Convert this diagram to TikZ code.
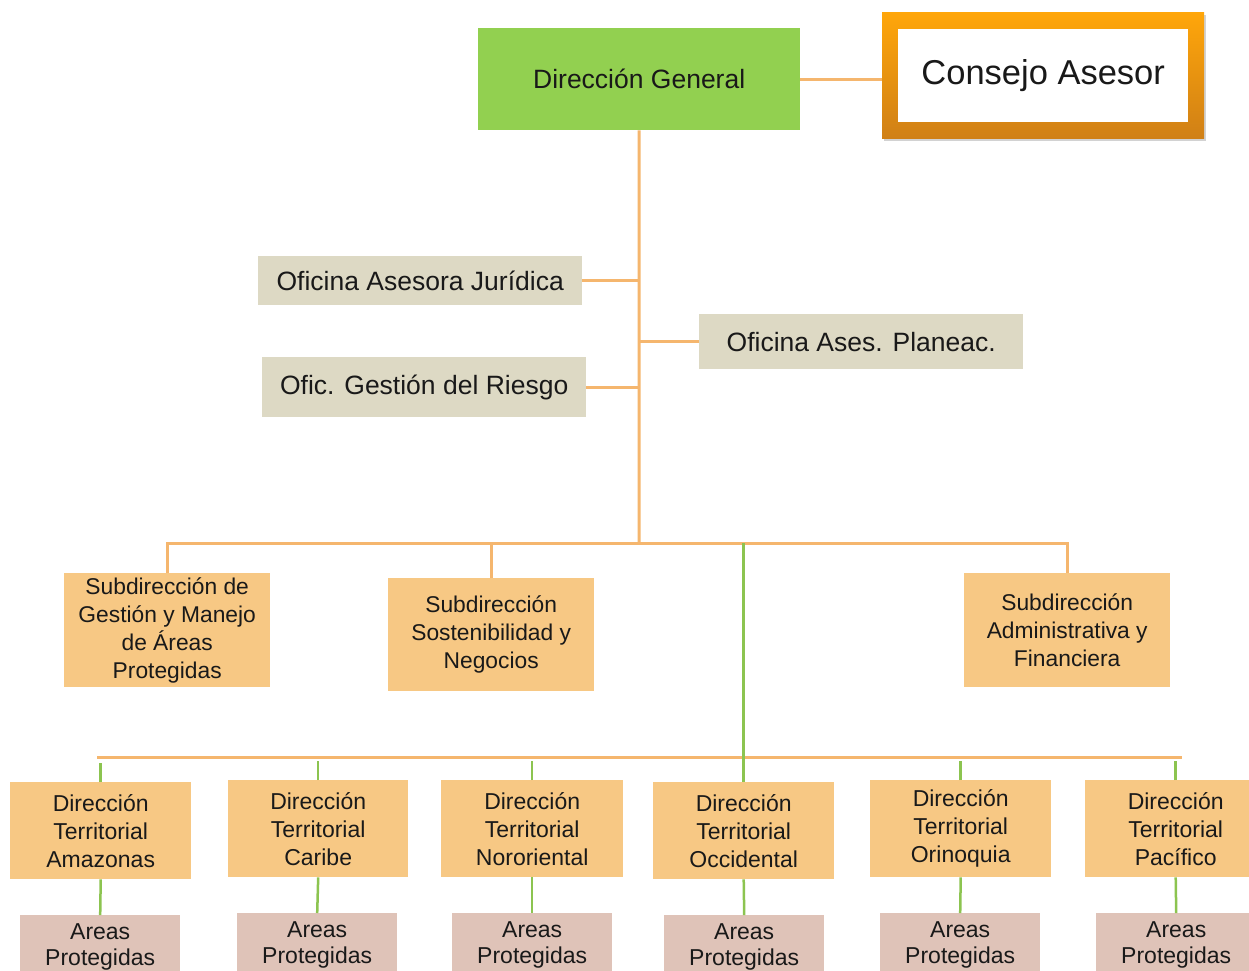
\documentclass[tikz,border=0pt]{standalone}
\usepackage{fontspec}
\setmainfont{Liberation Sans}
\usetikzlibrary{shadows}
\definecolor{dggreen}{RGB}{146,208,80}
\definecolor{ofgray}{RGB}{221,217,196}
\definecolor{subor}{RGB}{247,200,132}
\definecolor{areapink}{RGB}{223,195,184}
\definecolor{lineor}{RGB}{245,182,110}
\definecolor{linegr}{RGB}{140,196,80}
\definecolor{txt}{RGB}{25,25,25}
\definecolor{frtop}{RGB}{255,166,10}
\definecolor{frbot}{RGB}{208,128,22}
\tikzset{
  box/.style={anchor=north west, inner sep=2pt, align=center, text=txt},
  dgbox/.style={box, fill=dggreen, font=\fontsize{26.5}{30}\selectfont},
  ofbox/.style={box, fill=ofgray, font=\fontsize{26.5}{30}\selectfont},
  subbox/.style={box, fill=subor, font=\fontsize{22.8}{28}\selectfont},
  dirbox/.style={box, fill=subor, font=\fontsize{23}{28}\selectfont},
  areabox/.style={box, fill=areapink, font=\fontsize{23}{26}\selectfont},
  oline/.style={draw=lineor, line width=3pt},
  gline/.style={draw=linegr, line width=2.5pt},
}
\begin{document}
\begin{tikzpicture}[x=1pt,y=-1pt]
\clip (0,0) rectangle (1249,970);
\fill[white] (0,0) rectangle (1249,970);

% top
\node[dgbox, minimum width=322pt, minimum height=102pt] (dg) at (478,28) {Dirección General};
\node[anchor=north west, minimum width=322pt, minimum height=126pt, inner sep=0pt,
      top color=frtop, bottom color=frbot, drop shadow={shadow xshift=2pt, shadow yshift=-3pt, opacity=0.35}] (ca) at (882,12) {};
\node[box, fill=white, minimum width=290pt, minimum height=93pt, font=\fontsize{34.5}{40}\selectfont] (cain) at (898,29) {\raisebox{-3pt}{Consejo Asesor}};
\draw[oline] (dg.east) -- (dg.east -| ca.west);

% oficinas
\node[ofbox, minimum width=324pt, minimum height=49pt] (oj) at (258,256) {Oficina Asesora Jurídica};
\node[ofbox, minimum width=324pt, minimum height=55pt] (op) at (699,314) {Oficina Ases. Planeac.};
\node[ofbox, minimum width=324pt, minimum height=60pt] (og) at (262,357) {Ofic. Gestión del Riesgo};

\coordinate (bus) at (639,543);
\draw[oline] (dg.south) -- (bus);
\draw[oline] (oj.east) -- (oj.east -| bus);
\draw[oline] (op.west) -- (op.west -| bus);
\draw[oline] (og.east) -- (og.east -| bus);

% subdirecciones
\node[subbox, minimum width=206pt, minimum height=114pt] (s1) at (64,573) {Subdirección de\\Gestión y Manejo\\de Áreas\\Protegidas};
\node[subbox, minimum width=206pt, minimum height=113pt] (s2) at (388,578) {Subdirección\\Sostenibilidad y\\Negocios};
\node[subbox, minimum width=206pt, minimum height=114pt] (s3) at (964,573) {Subdirección\\Administrativa y\\Financiera};
\draw[oline] (s1.north) -- (s1.north |- bus) -- (s3.north |- bus) -- (s3.north);
\draw[oline] (s2.north) -- (s2.north |- bus);

% direcciones territoriales
\node[dirbox, minimum width=181pt, minimum height=97pt] (d1) at (10,782) {Dirección\\Territorial\\Amazonas};
\node[dirbox, minimum width=180pt, minimum height=97pt] (d2) at (228,780) {Dirección\\Territorial\\Caribe};
\node[dirbox, minimum width=182pt, minimum height=97pt] (d3) at (441,780) {Dirección\\Territorial\\Nororiental};
\node[dirbox, minimum width=181pt, minimum height=97pt] (d4) at (653,782) {Dirección\\Territorial\\Occidental};
\node[dirbox, minimum width=181pt, minimum height=97pt] (d5) at (870,780) {Dirección\\Territorial\\Orinoquia};
\node[dirbox, minimum width=181pt, minimum height=97pt] (d6) at (1085,780) {Dirección\\Territorial\\Pacífico};

\coordinate (hl) at (97,757);
\coordinate (hr) at (1182,757);
\draw[oline] (hl) -- (hr);
\draw[gline] (d4.north |- bus) -- (d4.north);
\foreach \d in {d1,d2,d3,d5,d6}{
  \draw[gline] (\d.north) -- ++(0,-19);
}

% areas protegidas
\node[areabox, minimum width=160pt, minimum height=64pt] (a1) at (20,915) {Areas\\Protegidas};
\node[areabox, minimum width=160pt, minimum height=64pt] (a2) at (237,913) {Areas\\Protegidas};
\node[areabox, minimum width=160pt, minimum height=64pt] (a3) at (452,913) {Areas\\Protegidas};
\node[areabox, minimum width=160pt, minimum height=64pt] (a4) at (664,915) {Areas\\Protegidas};
\node[areabox, minimum width=160pt, minimum height=64pt] (a5) at (880,913) {Areas\\Protegidas};
\node[areabox, minimum width=160pt, minimum height=64pt] (a6) at (1096,913) {Areas\\Protegidas};
\foreach \i in {1,...,6}{
  \draw[gline] (d\i.south) -- (a\i.north);
}
\end{tikzpicture}
\end{document}
